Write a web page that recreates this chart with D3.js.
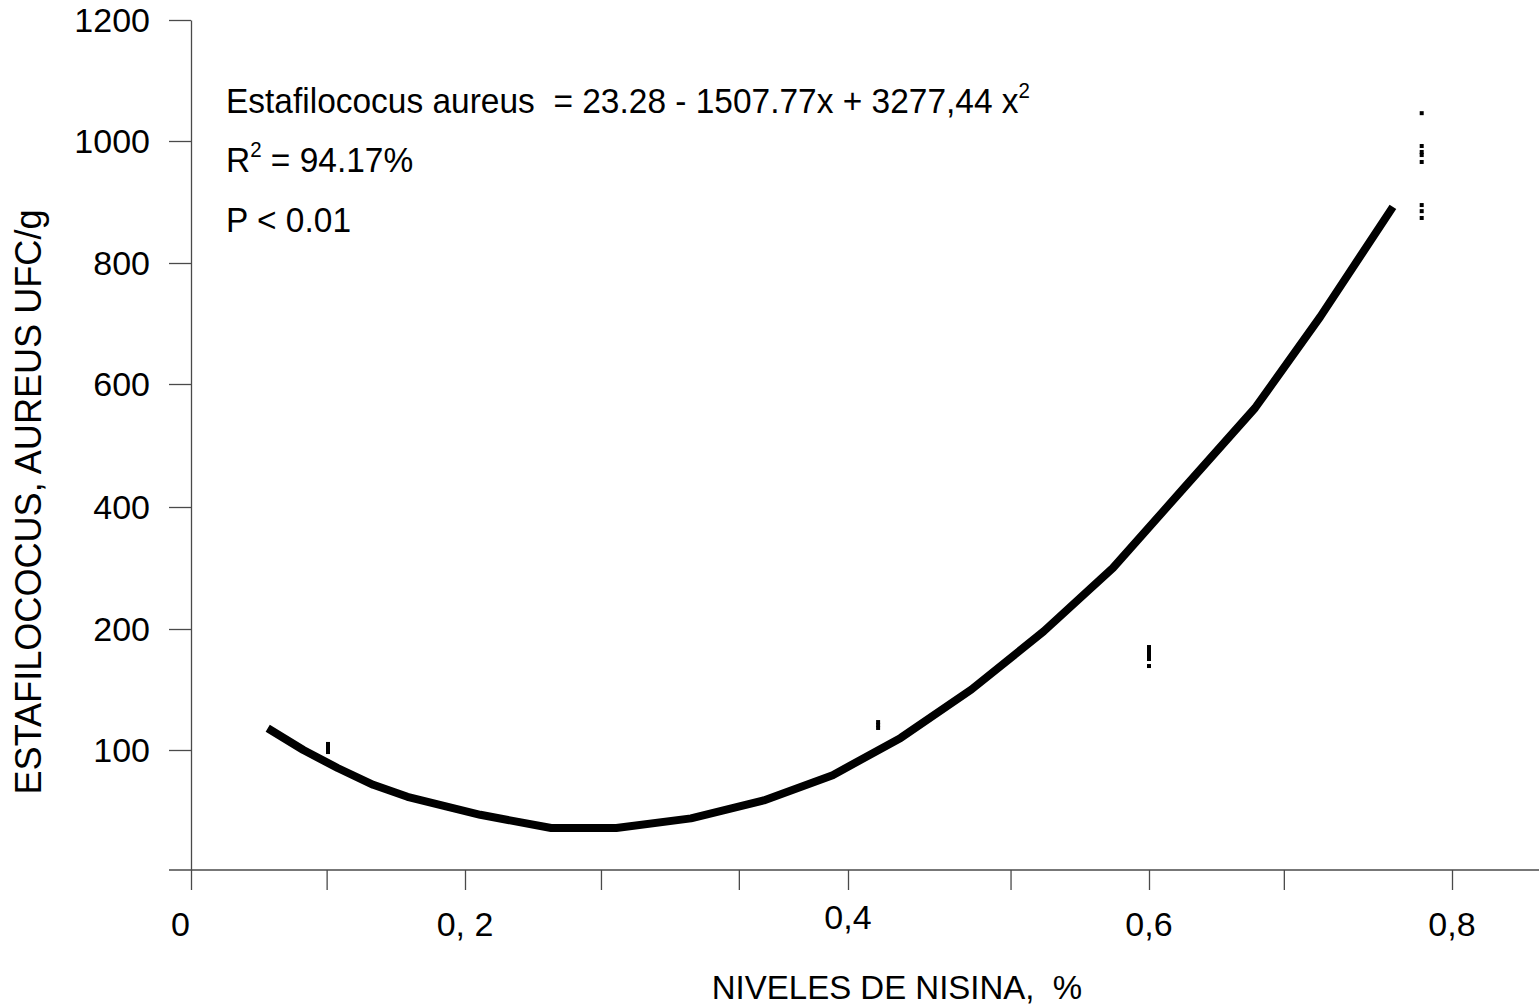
<!DOCTYPE html>
<html>
<head>
<meta charset="utf-8">
<script src="https://cdn.jsdelivr.net/npm/d3@7"></script>
<style>
  html, body { margin: 0; padding: 0; background: #fff; }
  svg { display: block; }
  text { font-family: "Liberation Sans", Arial, sans-serif; fill: #000; white-space: pre; }
</style>
</head>
<body>
<svg id="chart" width="1539" height="1007"></svg>
<script>
// ---- data ----
const xLabelValues = [0, 0.2, 0.4, 0.6, 0.8];
const xLabels = ["0", "0, 2", "0,4", "0,6", "0,8"];
const xMinorTicks = [0.099, 0.271, 0.343, 0.508, 0.689];
const yTickValues = [100, 200, 400, 600, 800, 1000, 1200];
const yTickLabels = ["100", "200", "400", "600", "800", "1000", "1200"];

// fitted curve
const curveX = [0.056, 0.082, 0.107, 0.133, 0.158, 0.208, 0.245, 0.279, 0.318, 0.356, 0.392, 0.435, 0.482, 0.530, 0.576, 0.622, 0.670, 0.713, 0.761];
const curveY = [118, 100, 85, 71, 61, 46, 35, 35, 43, 58, 79, 110, 150, 198, 300, 428, 561, 711, 892];

// observed points
const obsX = [0.1, 0.1, 0.1, 0.1,
              0.42, 0.42, 0.42,
              0.6, 0.6, 0.6, 0.6, 0.6, 0.6,
              0.78, 0.78, 0.78, 0.78, 0.78, 0.78, 0.78, 0.78];
const obsY = [105, 102.5, 100, 98.3,
              123.1, 120.7, 118.2,
              185.1, 182.6, 180.2, 177.7, 175.2, 169.4,
              1046, 991.8, 982, 977, 965.6, 895, 885, 873.8];

const yTitle = "ESTAFILOCOCUS, AUREUS UFC/g";
const xTitle = "NIVELES DE NISINA,  %";

// ---- layout ----
const svg = d3.select("#chart");
const W = 1539;
const axisColor = "#4a4a4a";

const x = d3.scaleLinear()
  .domain([0, 0.2, 0.4, 0.6, 0.8])
  .range([191, 465, 848, 1149, 1452]);
const y = d3.scaleLinear()
  .domain([0, 100, 200, 400, 600, 800, 1000, 1200])
  .range([870, 750, 629, 507, 384, 263, 141, 20]);

// y axis
const yAxisG = svg.append("g").attr("transform", `translate(${x(0)},0)`)
  .call(d3.axisLeft(y).tickValues(yTickValues).tickSize(22).tickSizeOuter(0)
    .tickPadding(19).tickFormat((d, i) => yTickLabels[i]));
yAxisG.select(".domain").attr("stroke", axisColor).attr("stroke-width", 1.3);
yAxisG.selectAll(".tick line").attr("stroke", axisColor).attr("stroke-width", 1.3);
yAxisG.selectAll(".tick text").attr("font-size", 34).attr("font-family", "Liberation Sans, Arial, sans-serif")
  .attr("fill", "#000").attr("dy", "0.35em");

// x axis line (extends across)
svg.append("line")
  .attr("x1", x(0) - 22).attr("x2", W)
  .attr("y1", y(0)).attr("y2", y(0))
  .attr("stroke", axisColor).attr("stroke-width", 1.3);

const allXTicks = xLabelValues.concat(xMinorTicks);
const xAxisG = svg.append("g").attr("transform", `translate(0,${y(0)})`)
  .call(d3.axisBottom(x).tickValues(allXTicks).tickSize(20).tickSizeOuter(0).tickFormat(""));
xAxisG.select(".domain").remove();
xAxisG.selectAll(".tick line").attr("stroke", axisColor).attr("stroke-width", 1.3);

// x labels
svg.append("g").selectAll("text")
  .data(xLabelValues)
  .join("text")
  .attr("x", (d, i) => i === 0 ? x(d) - 1 : x(d))
  .attr("y", (d, i) => i === 2 ? 929 : 936)
  .attr("text-anchor", (d, i) => i === 0 ? "end" : "middle")
  .attr("font-size", 34)
  .text((d, i) => xLabels[i]);

// axis titles
svg.append("text")
  .attr("x", 897).attr("y", 999)
  .attr("text-anchor", "middle")
  .attr("font-size", 33)
  .text(xTitle);

svg.append("text")
  .attr("transform", "translate(41,502) rotate(-90)")
  .attr("text-anchor", "middle")
  .attr("font-size", 36)
  .attr("textLength", 585)
  .attr("lengthAdjust", "spacingAndGlyphs")
  .text(yTitle);

// curve
const curveData = curveX.map((v, i) => [v, curveY[i]]);
svg.append("path")
  .datum(curveData)
  .attr("fill", "none")
  .attr("stroke", "#000")
  .attr("stroke-width", 8)
  .attr("stroke-linejoin", "round")
  .attr("d", d3.line().x(d => x(d[0])).y(d => y(d[1])));

// observations
svg.append("g").selectAll("rect")
  .data(obsX.map((v, i) => [v, obsY[i]]))
  .join("rect")
  .attr("x", d => x(d[0]) - 2)
  .attr("y", d => y(d[1]) - 2)
  .attr("width", 4).attr("height", 4)
  .attr("fill", "#000");

// annotation
const ann = svg.append("g").attr("transform", "translate(226,0) scale(0.93,1)");
const t1 = ann.append("text").attr("x", 0).attr("y", 113).attr("font-size", 36);
t1.append("tspan").text("Estafilococus aureus  = 23.28 - 1507.77x + 3277,44 x");
t1.append("tspan").attr("font-size", 22).attr("dy", -15).text("2");

const t2 = ann.append("text").attr("x", 0).attr("y", 172).attr("font-size", 36);
t2.append("tspan").text("R");
t2.append("tspan").attr("font-size", 22).attr("dy", -15).text("2");
t2.append("tspan").attr("dy", 15).text(" = 94.17%");

ann.append("text").attr("x", 0).attr("y", 232).attr("font-size", 36).text("P < 0.01");
</script>
</body>
</html>
